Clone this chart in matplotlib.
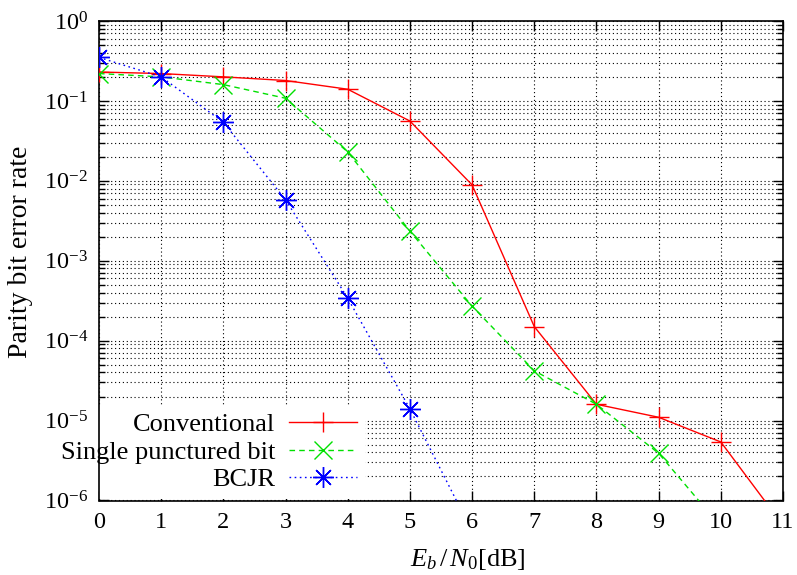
import numpy as np
import matplotlib
matplotlib.use("Agg")
import matplotlib.pyplot as plt
from matplotlib.patches import Rectangle
from matplotlib.ticker import LogLocator, NullFormatter, MultipleLocator

plt.rcParams['font.family'] = ['Liberation Serif', 'DejaVu Serif']
plt.rcParams['mathtext.fontset'] = 'custom'
plt.rcParams['mathtext.rm'] = 'Liberation Serif'
plt.rcParams['mathtext.it'] = 'Liberation Serif:italic'

# Eb/N0 in dB
snr_conv = [0, 1, 2, 3, 4, 5, 6, 7, 8, 9, 10, 11]
ber_conv = [0.23, 0.22, 0.20, 0.18, 0.14, 0.056, 8.9e-3, 1.5e-4, 1.6e-5, 1.1e-5, 5.4e-6, 4.9e-7]

snr_punct = [0, 1, 2, 3, 4, 5, 6, 7, 8, 9, 10]
ber_punct = [0.22, 0.20, 0.16, 0.108, 0.023, 2.35e-3, 2.7e-4, 4.2e-5, 1.6e-5, 3.9e-6, 4.7e-7]

snr_bcjr = [0, 1, 2, 3, 4, 5, 6]
ber_bcjr = [0.35, 0.20, 0.054, 5.8e-3, 3.4e-4, 1.4e-5, 4.1e-7]

labels = ["Conventional", "Single punctured bit", "BCJR"]

fig = plt.figure(figsize=(7.97, 5.75), dpi=100)
ax = fig.add_axes([99 / 797, 1 - 500.5 / 575, 684 / 797, 479.5 / 575])

ax.plot(snr_conv, ber_conv, color='#ff0000', lw=1.0, ls='-',
        marker='+', ms=14, mew=1.0, label=labels[0], zorder=3)
ax.plot(snr_punct, ber_punct, color='#00e000', lw=1.0, ls=(0, (4, 3)),
        marker='x', ms=13, mew=1.0, label=labels[1], zorder=3)
ax.plot(snr_bcjr, ber_bcjr, color='#0000ff', lw=1.0, ls=(0, (1.2, 2.5)),
        marker=(8, 2, 0), ms=15, mew=1.0, label=labels[2], zorder=3)

ax.set_yscale('log')
ax.set_xlim(0, 11)
ax.set_ylim(1e-6, 1)
ax.xaxis.set_major_locator(MultipleLocator(1))
ax.yaxis.set_major_locator(LogLocator(base=10, numticks=10))
ax.yaxis.set_minor_locator(LogLocator(base=10, subs=np.arange(2, 10), numticks=20))
ax.yaxis.set_minor_formatter(NullFormatter())

ax.tick_params(which='both', direction='in', top=True, right=True,
               labelsize=17.5, width=1.0)
ax.tick_params(which='major', length=7, pad=8)
ax.tick_params(which='minor', length=4)
ax.tick_params(axis='x', which='minor', bottom=False, top=False)

ax.grid(which='major', color='black', ls=(0, (1, 2.5)), lw=0.8)
ax.grid(which='minor', axis='y', color='black', ls=(0, (1, 2.5)), lw=0.8)
ax.set_axisbelow(True)
for s in ax.spines.values():
    s.set_linewidth(1.2)

ax.set_xlabel(r'$E_b\,/\,N_0$[dB]', fontsize=19)
ax.xaxis.set_label_coords(0.539, -0.098)
ax.set_ylabel('Parity bit error rate', fontsize=20)
ax.yaxis.set_label_coords(-0.097, 0.518)

# key: right-aligned labels with samples after them, no frame
leg = ax.legend(loc='center right', bbox_to_anchor=(0.389, 0.101), fontsize=19,
                markerfirst=False, handlelength=2.6, handletextpad=0.5,
                labelspacing=0.15, frameon=False,
                borderaxespad=0.0, borderpad=0.3)
for t in leg.get_texts():
    t.set_ha('right')
leg._legend_box.align = 'right'

# white backing behind the key, clipped to the plot area so it hides the grid only
fig.canvas.draw()
bb = leg.get_window_extent().transformed(ax.transAxes.inverted())
ax.add_patch(Rectangle((bb.x0, bb.y0), bb.width, bb.height, transform=ax.transAxes,
                       facecolor='white', edgecolor='none', zorder=1, clip_on=True))

fig.savefig('out.png', dpi=100)
